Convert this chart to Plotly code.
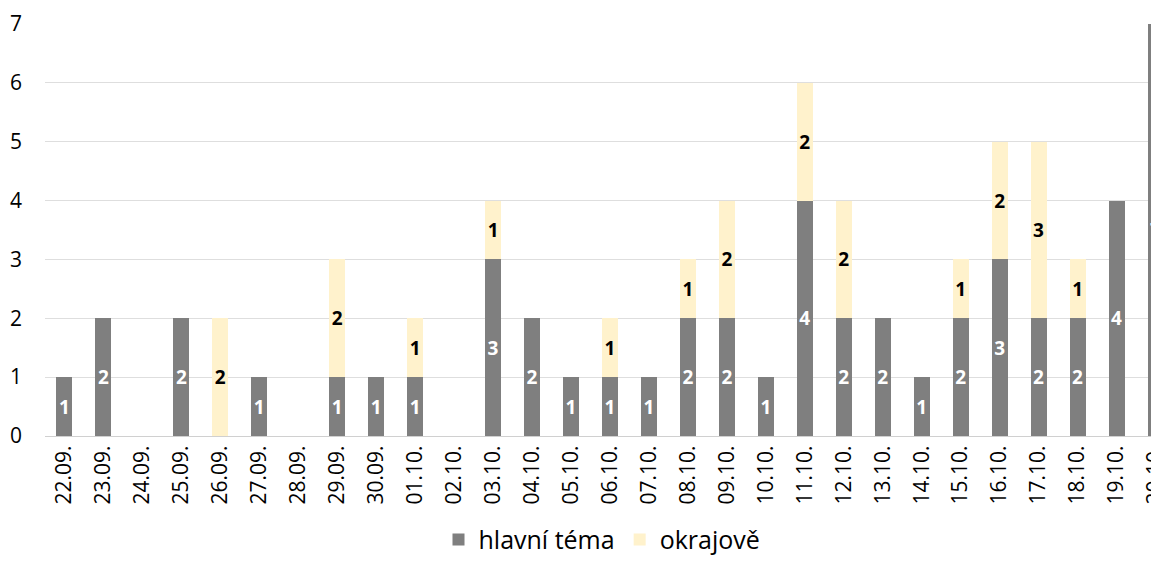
"""Stacked daily counts: main topic vs. marginal mention."""

import plotly.graph_objects as go

GREY = "#7f7f7f"
CREAM = "#fff2cc"
FONT = "Open Sans, Liberation Sans, sans-serif"

dates = [
    "22.09.", "23.09.", "24.09.", "25.09.", "26.09.", "27.09.", "28.09.",
    "29.09.", "30.09.", "01.10.", "02.10.", "03.10.", "04.10.", "05.10.",
    "06.10.", "07.10.", "08.10.", "09.10.", "10.10.", "11.10.", "12.10.",
    "13.10.", "14.10.", "15.10.", "16.10.", "17.10.", "18.10.", "19.10.",
    "20.10.",
]
hlavni = [1, 2, 0, 2, 0, 1, 0, 1, 1, 1, 0, 3, 2, 1, 1, 1, 2, 2, 1, 4, 2, 2, 1, 2, 3, 2, 2, 4, 7]
okrajove = [0, 0, 0, 0, 2, 0, 0, 2, 0, 1, 0, 1, 0, 0, 1, 0, 1, 2, 0, 2, 2, 0, 0, 1, 2, 3, 1, 0, 0]


def labels(values):
    return [str(v) if v else "" for v in values]


fig = go.Figure()
fig.add_trace(go.Bar(
    x=dates, y=hlavni, name="hlavní téma",
    marker={"color": GREY, "line": {"width": 0}},
    text=labels(hlavni), textposition="inside", insidetextanchor="middle",
    textangle=0, constraintext="none",
    textfont={"color": "white", "size": 19, "family": FONT, "weight": "bold"},
))
fig.add_trace(go.Bar(
    x=dates, y=okrajove, name="okrajově",
    marker={"color": CREAM, "line": {"width": 0}},
    text=labels(okrajove), textposition="inside", insidetextanchor="middle",
    textangle=0, constraintext="none",
    textfont={"color": "black", "size": 19, "family": FONT, "weight": "bold"},
))

# the page body has an 8px margin, so the figure is shrunk to fit the window
fig.update_layout(
    barmode="stack",
    bargap=0.59,
    width=1151, height=551,
    margin={"l": 37, "r": 0, "t": 16, "b": 123},
    paper_bgcolor="white", plot_bgcolor="white",
    font={"family": FONT, "color": "black", "size": 21},
    legend={
        "orientation": "h", "x": 0.5, "xanchor": "center",
        "yref": "container", "y": 0.035, "yanchor": "middle",
        "font": {"size": 25}, "traceorder": "normal",
    },
)
fig.update_xaxes(
    type="category", range=[-0.5, 28.09], tickangle=-90,
    showgrid=False, showline=True, linecolor="#d0d0d0",
    tickfont={"size": 21}, ticks="", automargin=False,
)
fig.update_yaxes(
    range=[0, 7], dtick=1, showgrid=True, gridcolor="#dedede",
    zeroline=False, tickfont={"size": 21}, ticklabelstandoff=22,
    automargin=False,
)

fig.write_html("out.html")
